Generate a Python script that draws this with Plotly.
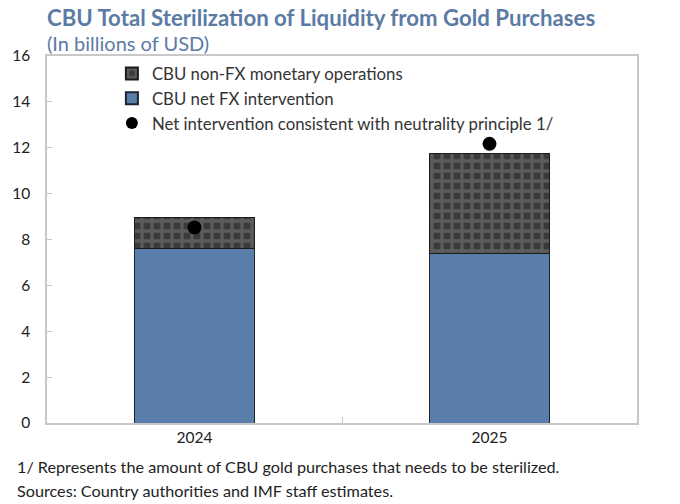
import plotly.graph_objects as go

years = ["2024", "2025"]
net_fx = [7.61, 7.39]
non_fx = [1.35, 4.35]
neutral = [8.52, 12.17]

title = "CBU Total Sterilization of Liquidity from Gold Purchases"
subtitle = "(In billions of USD)"
notes = ["1/ Represents the amount of CBU gold purchases that needs to be sterilized.",
         "Sources: Country authorities and IMF staff estimates."]

font = "Lato"
blue = "#5a7eaa"
title_col = "#5b7ba5"

fig = go.Figure()

fig.add_trace(go.Bar(
    x=years, y=net_fx, name="CBU net FX intervention",
    marker=dict(color=blue, line=dict(color="#1c2433", width=1)),
    width=0.405, legendrank=2,
))
fig.add_trace(go.Bar(
    x=years, y=non_fx, name="CBU non-FX monetary operations",
    marker=dict(color="#3c3c3c", line=dict(color="#1c1c1c", width=1),
                pattern=dict(shape="+", fgcolor="#5c5c5c", bgcolor="#3a3a3a",
                             size=10, solidity=0.55, fillmode="replace")),
    width=0.405, legendrank=1,
))
fig.add_trace(go.Scatter(
    x=years, y=neutral, mode="markers",
    name="Net intervention consistent with neutrality principle 1/",
    marker=dict(color="black", size=14),
    legendrank=3,
))

fig.update_layout(
    width=680, height=504,
    barmode="stack",
    plot_bgcolor="white", paper_bgcolor="white",
    margin=dict(l=47, r=43, t=56, b=81),
    font=dict(family=font, size=15, color="#222222"),
    showlegend=True,
    legend=dict(x=0.11, y=1.0, xanchor="left", yanchor="top", traceorder="normal",
                bgcolor="rgba(0,0,0,0)", font=dict(size=16.8, color="#333333"),
                tracegroupgap=0, itemsizing="constant"),
    xaxis=dict(showline=True, mirror=True, linecolor="#c8c8c8", linewidth=1.5,
               ticks="inside", tickson="boundaries", ticklen=6, tickcolor="#c8c8c8",
               tickfont=dict(size=15.5, color="#222222"), showgrid=False),
    yaxis=dict(range=[0, 16], dtick=2, showline=True, mirror=True,
               linecolor="#c8c8c8", linewidth=1.5, ticks="inside", ticklen=5,
               tickcolor="#c8c8c8", showgrid=False, zeroline=False,
               tickfont=dict(size=15.5, color="#222222"), ticklabelstandoff=12),
)

fig.add_annotation(text="<b>" + title + "</b>", xref="paper", yref="paper",
                   x=-0.004, y=1, yshift=39, xanchor="left", yanchor="middle",
                   showarrow=False, font=dict(size=22.2, color=title_col, family=font))
fig.add_annotation(text=subtitle, xref="paper", yref="paper",
                   x=-0.004, y=1, yshift=13, xanchor="left", yanchor="middle",
                   showarrow=False, font=dict(size=20, color=title_col, family=font))
for i, n in enumerate(notes):
    fig.add_annotation(text=n, xref="paper", yref="paper", x=-0.054, y=0,
                       yshift=-43 - 24 * i, xanchor="left", yanchor="middle",
                       showarrow=False, font=dict(size=16.2, color="#222222", family=font))

fig.write_html("out.html", config={"displayModeBar": False},
               post_script="document.body.style.margin='0';")
